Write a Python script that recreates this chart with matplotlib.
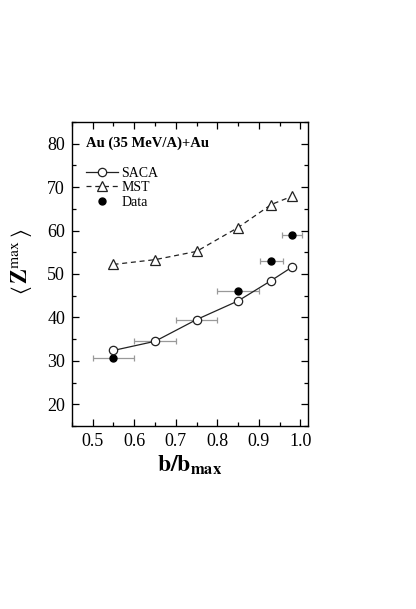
import matplotlib
matplotlib.use("Agg")
import matplotlib.pyplot as plt
from matplotlib.lines import Line2D
from matplotlib.ticker import MultipleLocator

plt.rcParams['font.family'] = ['Liberation Serif', 'DejaVu Serif']
plt.rcParams['mathtext.fontset'] = 'stix'

# model curves
b_model = [0.55, 0.65, 0.75, 0.85, 0.93, 0.98]
saca = [32.4, 34.5, 39.5, 43.8, 48.5, 51.6]
mst = [52.2, 53.3, 55.2, 60.7, 66.0, 67.9]

# experimental data
b_data = [0.55, 0.65, 0.75, 0.85, 0.93, 0.98]
z_data = [30.7, 34.5, 39.3, 46.0, 53.1, 58.9]
b_err = [0.05, 0.05, 0.05, 0.05, 0.027, 0.025]

fig = plt.figure(figsize=(4.16, 6.09), dpi=100)
ax = fig.add_axes([0.173, 0.3005, 0.567, 0.4992])

ax.errorbar(b_data, z_data, xerr=b_err, fmt='o', color='black', ms=5,
            ecolor='#999999', elinewidth=0.9, capsize=2, capthick=0.9, zorder=2)
l_saca, = ax.plot(b_model, saca, '-', color='#222222', lw=0.9, marker='o', ms=6,
                  mfc='white', mec='#222222', mew=0.9, zorder=3)
l_mst, = ax.plot(b_model, mst, '--', color='#222222', lw=0.9, marker='^', ms=6.5,
                 mfc='white', mec='#222222', mew=0.9, dashes=(4, 3), zorder=3)
l_data = Line2D([], [], ls='none', marker='o', color='black', ms=5)

ax.set_xlim(0.45, 1.018)
ax.set_ylim(15, 85)
ax.xaxis.set_major_locator(MultipleLocator(0.1))
ax.xaxis.set_minor_locator(MultipleLocator(0.05))
ax.yaxis.set_major_locator(MultipleLocator(10))
ax.yaxis.set_minor_locator(MultipleLocator(5))
ax.tick_params(which='both', direction='in', top=True, right=True, labelsize=13)
ax.tick_params(which='major', length=5, width=0.9, pad=5)
ax.tick_params(which='minor', length=3, width=0.9)
for s in ax.spines.values():
    s.set_linewidth(1.0)

ax.set_xlabel(r'$\mathbf{b/b}_{\mathbf{max}}$', fontsize=17, labelpad=3)
ax.set_ylabel(r'$\langle\,\mathbf{Z}^{\mathrm{max}}\,\rangle$', fontsize=16)
ax.yaxis.set_label_coords(-0.16, 0.54)

ax.text(0.058, 0.93, 'Au (35 MeV/A)+Au', transform=ax.transAxes,
        fontsize=10.5, fontweight='bold', va='center', ha='left')

ax.legend([l_saca, l_mst, l_data], ['SACA', 'MST', 'Data'], loc='upper left',
          bbox_to_anchor=(0.02, 0.885), frameon=False, fontsize=10,
          handlelength=2.3, handletextpad=0.2, labelspacing=0.12, borderaxespad=0.3)

fig.savefig('out.png', dpi=100)
